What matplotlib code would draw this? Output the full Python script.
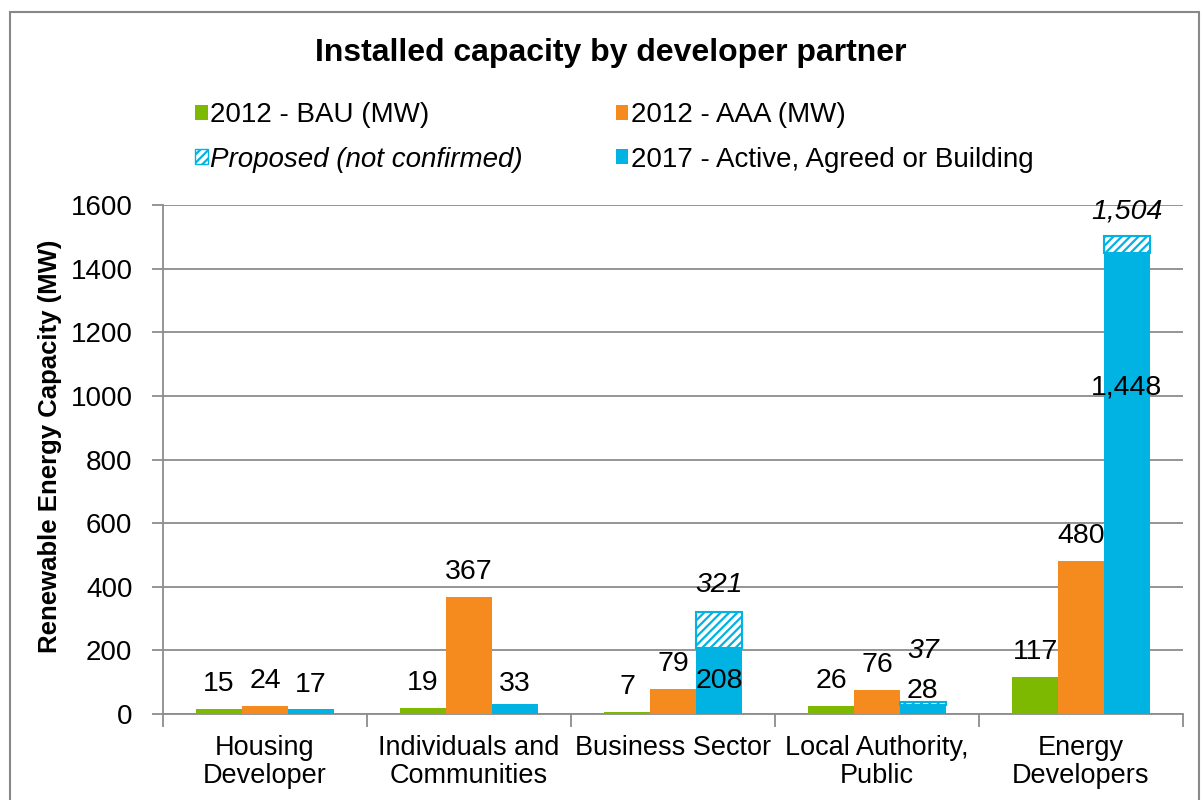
import matplotlib
matplotlib.use("Agg")
import matplotlib.pyplot as plt
from matplotlib.patches import Rectangle, Patch
import numpy as np

plt.rcParams['font.family'] = ['Liberation Sans', 'DejaVu Sans']
plt.rcParams['hatch.linewidth'] = 1.6

categories = ["Housing\nDeveloper", "Individuals and\nCommunities", "Business Sector",
              "Local Authority,\nPublic", "Energy\nDevelopers"]
bau_2012 = [15, 19, 7, 26, 117]
aaa_2012 = [24, 367, 79, 76, 480]
active_2017 = [17, 33, 208, 28, 1448]
proposed_total = [None, None, 321, 37, 1504]
active_labels = ["17", "33", "208", "28", "1,448"]
proposed_labels = [None, None, "321", "37", "1,504"]
yticks = [0, 200, 400, 600, 800, 1000, 1200, 1400, 1600]

GREEN = '#7DB900'
ORANGE = '#F58B1F'
BLUE = '#00B3E3'
GRAY = '#8C8C8C'

fig = plt.figure(figsize=(12.02, 8.0), dpi=100)
ax = fig.add_axes([163/1202, 86/800, 1020/1202, 509/800])

x = np.arange(len(categories))
w = 0.225
ax.bar(x - w, bau_2012, w, color=GREEN, zorder=3)
ax.bar(x, aaa_2012, w, color=ORANGE, zorder=3)
ax.bar(x + w, active_2017, w, color=BLUE, zorder=3)
for i, tot in enumerate(proposed_total):
    if tot is None:
        continue
    ax.bar(x[i] + w, tot - active_2017[i], w, bottom=active_2017[i], color='white',
           edgecolor=BLUE, hatch='////', linewidth=1.5, zorder=3)

ax.set_xlim(-0.5, len(categories) - 0.5)
ax.set_ylim(0, 1600)
ax.set_yticks(yticks)
ax.set_yticklabels([str(v) for v in yticks], fontsize=20)
ax.set_xticks(x)
ax.set_xticklabels(categories, fontsize=19.5, linespacing=1.1)
ax.set_xticks(np.arange(-0.5, len(categories)), minor=True)
ax.tick_params(axis='x', which='major', length=0, pad=15)
ax.tick_params(axis='x', which='minor', length=9, color=GRAY, width=1.3, direction='out')
ax.tick_params(axis='y', length=8, color=GRAY, width=1.3, pad=14)
ax.yaxis.grid(True, color=GRAY, linewidth=1.3, zorder=0)
ax.set_axisbelow(True)
for s in ['top', 'right']:
    ax.spines[s].set_visible(False)
for s in ['left', 'bottom']:
    ax.spines[s].set_color(GRAY)
    ax.spines[s].set_linewidth(1.3)

ax.set_ylabel("Renewable Energy Capacity (MW)", fontsize=18.5, fontweight='bold')
ax.yaxis.set_label_coords((62 - 163) / 1020, (714 - 446) / 509)

# data labels
def lab(xv, yv, txt, style='normal', dy=18):
    ax.annotate(txt, (xv, yv), xytext=(0, dy), textcoords='offset points',
                ha='center', va='center', fontsize=20.5, style=style, zorder=5)

for i in range(len(categories)):
    lab(x[i] - w, bau_2012[i], str(bau_2012[i]))
    lab(x[i], aaa_2012[i], str(aaa_2012[i]))

# active labels (some manually placed in the original)
active_label_pos = [active_2017[0], active_2017[1], 104, 28, 1025]
active_label_dy = [17, 14, 0, 10, 0]
for i in range(len(categories)):
    lab(x[i] + w, active_label_pos[i], active_labels[i], dy=active_label_dy[i])

proposed_label_pos = [None, None, 321, 198, 1504]
proposed_label_dy = [0, 0, 19, 0, 17]
for i in range(len(categories)):
    if proposed_labels[i] is None:
        continue
    lab(x[i] + w, proposed_label_pos[i], proposed_labels[i], style='italic', dy=proposed_label_dy[i])

# title
fig.text(611/1202, 1 - 53/800, "Installed capacity by developer partner",
         ha='center', va='center', fontsize=23, fontweight='bold')

# legend
handles = [Patch(facecolor=GREEN, label="2012 - BAU (MW)"),
           Patch(facecolor='white', edgecolor=BLUE, hatch='////', label="Proposed (not confirmed)"),
           Patch(facecolor=ORANGE, label="2012 - AAA (MW)"),
           Patch(facecolor=BLUE, label="2017 - Active, Agreed or Building")]
leg = fig.legend(handles=handles, ncol=2, loc='upper left',
                 bbox_to_anchor=(195/1202, 1 - 102/800), frameon=False, fontsize=20,
                 handlelength=0.45, handleheight=0.45, handletextpad=0.1,
                 columnspacing=3.35, labelspacing=0.67, borderpad=0, borderaxespad=0)
leg.get_texts()[1].set_style('italic')

# outer chart frame
fig.patches.append(Rectangle((10/1202, -0.05), 1189/1202, 1.05 - 12/800,
                             transform=fig.transFigure, fill=False,
                             edgecolor='#888888', linewidth=1.5))

fig.savefig("out.png", dpi=100)
